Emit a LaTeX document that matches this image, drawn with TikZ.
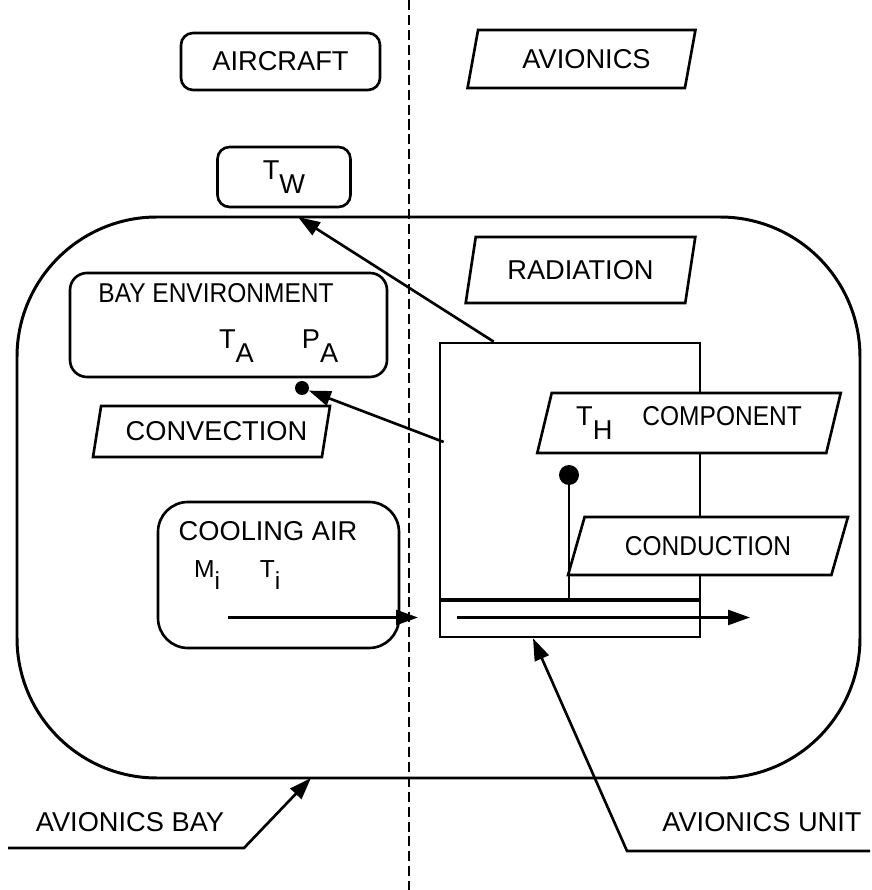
\documentclass[tikz,border=0pt]{standalone}
\usepackage{fontspec}
\setmainfont{Liberation Sans}
\newfontfamily\narrowfont{Liberation Sans}[FakeStretch=0.9]
\usetikzlibrary{arrows.meta, positioning, shapes.geometric, calc}
\newcommand{\labelfont}{\fontsize{15.5}{18}\selectfont}
\newcommand{\lowsub}[2]{#1\raisebox{-0.5em}{#2}}

\begin{document}
\begin{tikzpicture}[
  box/.style={draw, line width=1.5pt, rounded corners=0.24cm, font=\labelfont, inner sep=0pt},
  slant/.style={draw, fill=white, line width=1.5pt, trapezium, trapezium left angle=70,
    trapezium right angle=110, trapezium stretches=true, font=\labelfont, inner sep=0pt},
  arr/.style={-{Triangle[length=0.44cm, width=0.3cm]}, line width=1.5pt},
  lbl/.style={font=\labelfont},
]
\useasboundingbox (0,0) rectangle (17.44,17.8);

% aircraft / avionics divide
\coordinate (divtop) at (8.18,17.8);
\coordinate (divbot) at (8.18,0);
\draw[line width=1.3pt, dash pattern=on 5.7pt off 2.8pt] (divtop) -- (divbot);

% top row
\node[box, minimum width=3.98cm, minimum height=1.14cm] (aircraft) at (5.61,16.57) {AIRCRAFT};
\node[slant, minimum width=4.58cm, minimum height=1.16cm] (avionics) at (11.63,16.62) {\hspace{0.2cm}AVIONICS};
\node[box, minimum width=2.66cm, minimum height=1.2cm] (tw) at (5.68,14.26) {\lowsub{T}{W}};

% avionics bay
\node[draw, line width=1.7pt, rounded corners=2.8cm, minimum width=16.86cm, minimum height=11.22cm] (bay) at (8.77,7.85) {};

\node[slant, minimum width=4.62cm, minimum height=1.32cm] (radiation) at (11.61,12.4) {RADIATION};

% bay environment
\node[box, rounded corners=0.34cm, minimum width=6.34cm, minimum height=2.08cm] (bayenv) at (4.57,11.3) {};
\node[font={\labelfont\narrowfont}] (bayenvtitle) at (4.32,11.93) {BAY ENVIRONMENT};
\node[lbl] (ta) at (4.73,10.88) {\lowsub{T}{A}};
\node[lbl] (pa) at (6.4,10.88) {\lowsub{P}{A}};
\node[circle, fill, inner sep=0pt, minimum size=0.28cm] (envdot) at (6.04,10.04) {};

\node[slant, minimum width=4.74cm, minimum height=1.02cm] (convection) at (4.23,9.17) {\hspace{0.2cm}CONVECTION};

% avionics unit
\node[draw, line width=1.5pt, minimum width=5.2cm, minimum height=5.88cm, inner sep=0pt] (unit) at (11.4,8.0) {};
\coordinate (stripy) at (0,5.8);
\draw[line width=2.6pt] (unit.west |- stripy) -- (unit.east |- stripy);

\node[circle, fill, inner sep=0pt, minimum size=0.4cm] (hdot) at (11.38,8.3) {};
\draw[line width=1.5pt] (hdot) -- (hdot |- stripy);

\node[slant, minimum width=6.08cm, minimum height=1.2cm] (component) at (13.78,9.34)
  {\lowsub{T}{H}\hspace{1.1em}{\narrowfont COMPONENT}};
\node[slant, trapezium left angle=60, trapezium right angle=120, minimum width=5.6cm, minimum height=1.16cm] (conduction) at (14.16,6.88)
  {\narrowfont CONDUCTION};

% cooling air
\node[box, rounded corners=0.6cm, minimum width=4.82cm, minimum height=2.92cm] (cooling) at (5.57,6.3) {};
\node[lbl] (coolingtitle) at (5.36,7.18) {COOLING AIR};
\node[font=\fontsize{14}{17}\selectfont] (mi) at (4.14,6.3) {\lowsub{M}{i}};
\node[font=\fontsize{14}{17}\selectfont] (ti) at (5.4,6.3) {\lowsub{T}{i}};

% flows
\coordinate (coolstart) at (4.56,5.45);
\coordinate (coolend) at (8.36,5.45);
\draw[arr] (coolstart) -- (coolend);
\coordinate (flowin) at (9.14,5.45);
\coordinate (flowout) at (15.0,5.45);
\draw[arr] (flowin) -- (flowout);

\coordinate (radstart) at ($(unit.north west)+(1.1,0)$);
\coordinate (radtip) at (5.96,13.46);
\draw[arr] (radstart) -- (radtip);

\coordinate (convstart) at ($(unit.west)+(0.1,0.96)$);
\draw[arr] (convstart) -- (envdot);

% leaders
\node[lbl] (baylabel) at (2.6,1.36) {AVIONICS BAY};
\coordinate (bayfoot) at (0.16,0.84);
\coordinate (baykink) at (4.88,0.84);
\coordinate (baytip) at (6.22,2.24);
\draw[arr] (bayfoot) -- (baykink) -- (baytip);

\node[lbl] (unitlabel) at (15.24,1.36) {AVIONICS UNIT};
\coordinate (unitfoot) at (17.4,0.78);
\coordinate (unitkink) at (12.54,0.78);
\coordinate (unittip) at ($(unit.south)+(-0.74,0)$);
\draw[arr] (unitfoot) -- (unitkink) -- (unittip);

\end{tikzpicture}
\end{document}
